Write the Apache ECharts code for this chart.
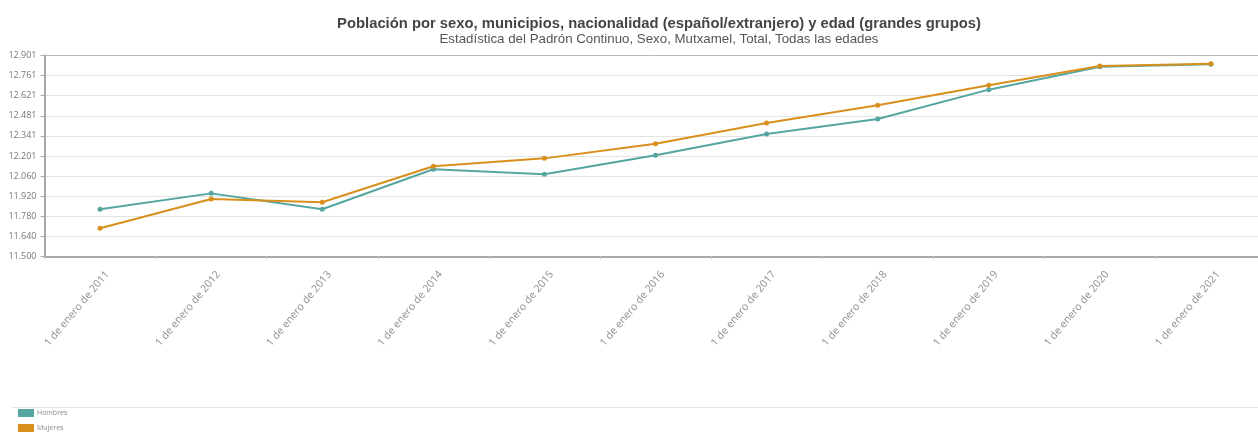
<!DOCTYPE html>
<html>
<head>
<meta charset="utf-8">
<script src="https://cdn.jsdelivr.net/npm/echarts@6/dist/echarts.min.js"></script>
<style>
html,body{margin:0;padding:0;background:#fff;overflow:hidden;width:1258px;height:432px;}
#chart{width:1318px;height:432px;}
</style>
</head>
<body>
<div id="chart"></div>
<script>
const categories = ['1 de enero de 2011','1 de enero de 2012','1 de enero de 2013','1 de enero de 2014','1 de enero de 2015','1 de enero de 2016','1 de enero de 2017','1 de enero de 2018','1 de enero de 2019','1 de enero de 2020','1 de enero de 2021'];
const hombres = [11829, 11940, 11829, 12108, 12073, 12205, 12354, 12458, 12663, 12822, 12840];
const mujeres = [11697, 11901, 11878, 12129, 12184, 12286, 12430, 12554, 12693, 12828, 12843];
const yMin = 11500, yMax = 12901;
const titleText = 'Población por sexo, municipios, nacionalidad (español/extranjero) y edad (grandes grupos)';
const subtitleText = 'Estadística del Padrón Continuo, Sexo, Mutxamel, Total, Todas las edades';

const chart = echarts.init(document.getElementById('chart'), null, {renderer:'canvas'});
const splitColors = ['#e3e3e3','#e3e3e3','#e3e3e3','#e3e3e3','#e3e3e3','#e3e3e3','#e3e3e3','#e3e3e3','#e3e3e3','#e3e3e3','#b8b8b8'];
chart.setOption({
  animation:false,
  color:['#55a6a0','#d98f1c'],
  title:{
    text:titleText, subtext:subtitleText, left:'center', top:11, itemGap:2,
    textStyle:{fontFamily:'Liberation Sans, Arial, sans-serif', fontSize:14.8, fontWeight:'bold', color:'#454545'},
    subtextStyle:{fontFamily:'Liberation Sans, Arial, sans-serif', fontSize:13.3, color:'#555'}
  },
  legend:{
    orient:'vertical', left:18, top:409, itemWidth:16, itemHeight:8, itemGap:7,
    icon:'rect',
    textStyle:{fontFamily:'Open Sans, sans-serif', fontSize:7, color:'#888', padding:[0,0,0,-2]},
    padding:0
  },
  graphic:[{type:'line', shape:{x1:12,y1:407.5,x2:1318,y2:407.5}, style:{stroke:'#e2e2e2', lineWidth:1}}],
  grid:{left:44.5, right:51.5, top:55.5, bottom:175.5, containLabel:false},
  xAxis:{
    type:'category', data:categories, boundaryGap:true,
    axisLine:{lineStyle:{color:'#a8a8a8', width:2}},
    axisTick:{show:true, length:3, lineStyle:{color:'#d0d0d0'}},
    axisLabel:{rotate:50, fontFamily:'Open Sans, sans-serif', fontSize:10.5, color:'#8f8f8f', margin:10, verticalAlign:'top', padding:[4,0,0,0]}
  },
  yAxis:{
    type:'value', min:yMin, max:yMax, interval:(yMax-yMin)/10,
    axisLine:{show:true, lineStyle:{color:'#a8a8a8', width:2}},
    axisTick:{show:true, length:4, lineStyle:{color:'#aaa'}},
    splitLine:{show:true, lineStyle:{color:splitColors, width:1}},
    axisLabel:{fontFamily:'Open Sans, sans-serif', fontSize:9, color:'#777', margin:8,
      formatter:function(v){ const n=Math.round(v); return String(n).replace(/\B(?=(\d{3})+(?!\d))/g,'.'); }}
  },
  series:[
    {name:'Hombres', type:'line', data:hombres, symbol:'circle', symbolSize:5, lineStyle:{width:2}},
    {name:'Mujeres', type:'line', data:mujeres, symbol:'circle', symbolSize:5, lineStyle:{width:2}}
  ]
});
</script>
</body>
</html>
